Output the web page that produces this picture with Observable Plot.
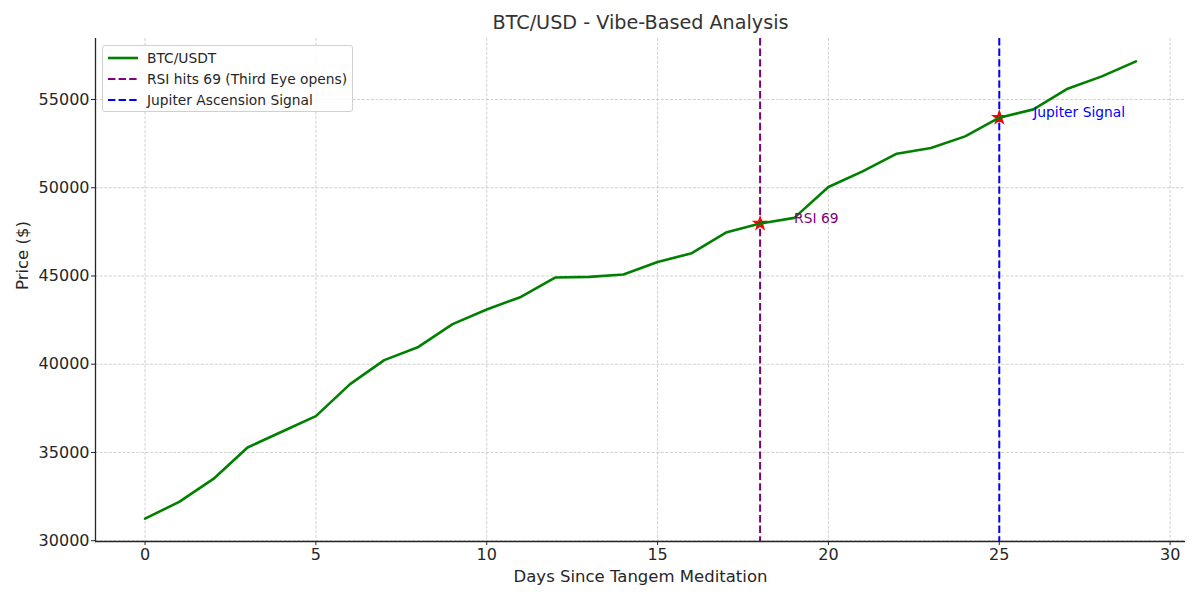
<!DOCTYPE html>
<html>
<head>
<meta charset="utf-8">
<script src="https://cdn.jsdelivr.net/npm/d3@7"></script>
<script src="https://cdn.jsdelivr.net/npm/@observablehq/plot@0.6"></script>
<style>
  html, body { margin: 0; padding: 0; background: #fff; }
  #wrap { position: relative; width: 1200px; height: 600px; font-family: "DejaVu Sans", sans-serif; }
  #legend { position: absolute; left: 102px; top: 45px; width: 251px; height: 67px; box-sizing: border-box;
    border: 1px solid #d0d0d0; border-radius: 3px; background: rgba(255,255,255,0.85);
    padding: 1px 0 0 5px; font-size: 13.8px; color: #262626; }
  .item { display: flex; align-items: center; height: 21px; }
  .item svg { margin-right: 9px; }
</style>
</head>
<body>
<div id="wrap"><div id="legend"></div></div>
<script>
const days = [0,1,2,3,4,5,6,7,8,9,10,11,12,13,14,15,16,17,18,19,20,21,22,23,24,25,26,27,28,29];
const prices = [31250,32200,33500,35280,36170,37060,38870,40230,40980,42270,43100,43810,44910,44950,45080,45790,46290,47460,47970,48290,50040,50930,51930,52250,52910,53970,54440,55610,56310,57160];
const eventDays = [18, 25];
const eventLabels = ["RSI 69", "Jupiter Signal"];
const eventColors = ["purple", "blue"];
const legendLabels = ["BTC/USDT", "RSI hits 69 (Third Eye opens)", "Jupiter Ascension Signal"];
const legendColors = ["green", "purple", "blue"];
const legendDashed = [false, true, true];
const xTicks = [0,5,10,15,20,25,30];
const yTicks = [30000,35000,40000,45000,50000,55000];
const title = "BTC/USD - Vibe-Based Analysis";
const xLabel = "Days Since Tangem Meditation";
const yLabel = "Price ($)";

const data = days.map((d, i) => ({day: d, price: prices[i]}));
const events = eventDays.map((d, i) => ({day: d, price: prices[days.indexOf(d)], label: eventLabels[i], color: eventColors[i]}));

const xExt = d3.extent(days), yExt = d3.extent(prices);
const xPad = (xExt[1] - xExt[0]) * 0.05, yPad = (yExt[1] - yExt[0]) * 0.05;
const xDom = [xExt[0] - xPad, xExt[1] + xPad];
const yDom = [yExt[0] - yPad, yExt[1] + yPad];

const gridStyle = {stroke: "#c4c4c4", strokeOpacity: 1, strokeWidth: 0.8, strokeDasharray: "3,1.6"};
const ink = "#262626";

const chart = Plot.plot({
  width: 1200, height: 600,
  marginTop: 38, marginBottom: 59, marginLeft: 95, marginRight: 15,
  style: {fontFamily: "DejaVu Sans, sans-serif", color: ink, background: "#fff"},
  x: {domain: xDom, label: null},
  y: {domain: yDom, label: null},
  marks: [
    Plot.gridX(xTicks, gridStyle),
    Plot.gridY(yTicks, gridStyle),
    Plot.ruleX(events, {x: "day", stroke: "color", strokeWidth: 2, strokeDasharray: "7.4,3.2"}),
    Plot.dot(events, {x: "day", y: "price", symbol: "star", fill: "red", stroke: "red", r: 3.8}),
    Plot.line(data, {x: "day", y: "price", stroke: "green", strokeWidth: 2.6}),
    Plot.text(events, {x: "day", y: "price", text: "label", fill: "color", textAnchor: "start", lineAnchor: "bottom", dx: 34, dy: -1, fontSize: 13.8}),
    Plot.ruleX([xDom[0]], {stroke: ink, strokeWidth: 1.3}),
    Plot.ruleY([yDom[0]], {stroke: ink, strokeWidth: 1.3}),
    Plot.axisX(xTicks, {tickSize: 4, tickPadding: 3, fontSize: 16, label: null, stroke: ink, fill: ink}),
    Plot.axisY(yTicks, {tickSize: 4, tickPadding: 2, fontSize: 16, label: null, stroke: ink, fill: ink, tickFormat: d => String(d)}),
    Plot.text([title], {frameAnchor: "top", dy: -16, fontSize: 19.2, fill: "#333", lineAnchor: "middle"}),
    Plot.text([xLabel], {frameAnchor: "bottom", dy: 35, fontSize: 16.5, fill: ink, lineAnchor: "middle"}),
    Plot.text([yLabel], {frameAnchor: "left", dx: -73, rotate: -90, fontSize: 16.5, fill: ink, lineAnchor: "middle"})
  ]
});
document.getElementById("wrap").prepend(chart);

const legend = document.getElementById("legend");
legendLabels.forEach((lab, i) => {
  const row = document.createElement("div");
  row.className = "item";
  row.innerHTML = `<svg width="30" height="6"><line x1="0" y1="3" x2="30" y2="3" stroke="${legendColors[i]}" stroke-width="${legendDashed[i] ? 2 : 2.6}" ${legendDashed[i] ? 'stroke-dasharray="7.4,3.2"' : ''}/></svg><span>${lab}</span>`;
  legend.appendChild(row);
});
</script>
</body>
</html>
